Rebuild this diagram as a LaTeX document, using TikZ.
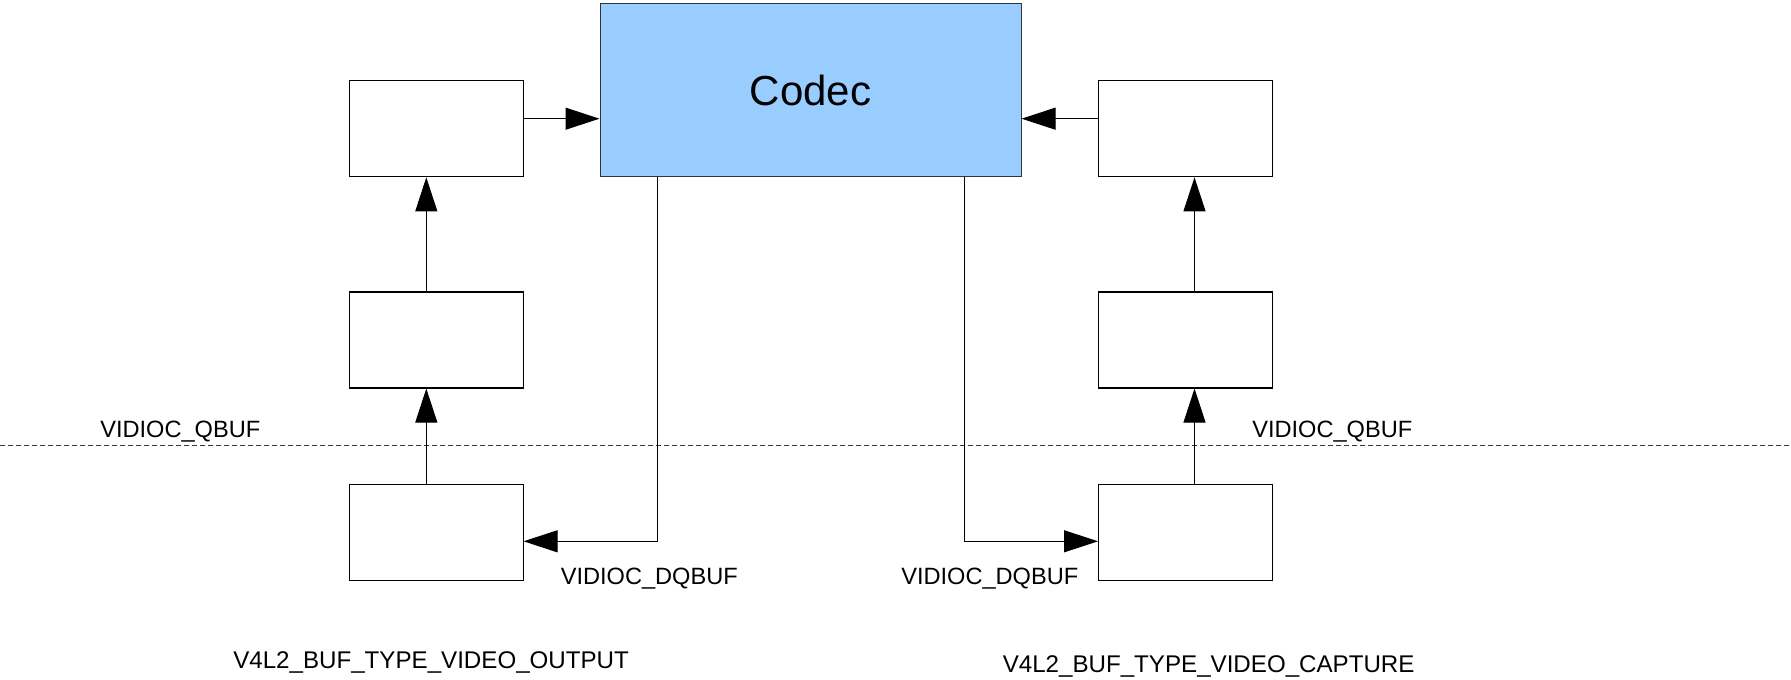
\documentclass[tikz,border=0pt]{standalone}
\usepackage{fontspec}
\setmainfont{Liberation Sans}
\usetikzlibrary{arrows.meta}
\definecolor{codecblue}{HTML}{99CCFF}
\begin{document}
\begin{tikzpicture}[x=0.75pt,y=-0.75pt,
  box/.style={draw=black,line width=0.8pt,fill=white,minimum width=174*0.75pt,minimum height=96*0.75pt,inner sep=0pt,anchor=north west},
  arr/.style={draw=black,line width=0.75pt,-{Triangle[length=25.5pt,width=16.5pt]}},
  lbl/.style={inner sep=0pt,anchor=base west,font=\fontsize{17.7pt}{20pt}\selectfont},
  biglbl/.style={inner sep=0pt,anchor=base west,font=\fontsize{18.1pt}{20pt}\selectfont}]
\useasboundingbox (0,0) rectangle (1791,680);
% codec
\node[draw=black!80,line width=0.8pt,fill=codecblue,minimum width=421*0.75pt,minimum height=172.6*0.75pt,inner sep=0pt,anchor=north west,font=\fontsize{31.5pt}{36pt}\selectfont] (codec) at (599.5,3.4) {Codec};
% boxes
\node[box] (lt) at (348.5,80.3) {};
\node[box] (lm) at (348.5,291.5) {};
\node[box] (lb) at (348.5,483.7) {};
\node[box] (rt) at (1098,80.3) {};
\node[box] (rm) at (1098,291.5) {};
\node[box] (rb) at (1098,483.7) {};
% helper coordinates
\coordinate (ya) at (0,118.7);
\coordinate (yd) at (0,541.3);
\coordinate (xl) at (426.3,0);
\coordinate (xr) at (1194.5,0);
\coordinate (xcl) at (657,0);
\coordinate (xcr) at (964,0);
\coordinate (dl) at (0,445.3);
\coordinate (dr) at (1791,445.3);
% dashed line
\draw[black!80,line width=0.6pt,dash pattern=on 3.5pt off 2.5pt] (dl) -- (dr);
% connectors
\draw[arr] (lt.east |- ya) -- (codec.west |- ya);
\draw[arr] (rt.west |- ya) -- (codec.east |- ya);
\draw[arr] (lm.north -| xl) -- (lt.south -| xl);
\draw[arr] (lb.north -| xl) -- (lm.south -| xl);
\draw[arr] (rm.north -| xr) -- (rt.south -| xr);
\draw[arr] (rb.north -| xr) -- (rm.south -| xr);
\draw[arr] (codec.south -| xcl) |- (lb.east |- yd);
\draw[arr] (codec.south -| xcr) |- (rb.west |- yd);
% labels
\node[lbl] (q1) at (100,438) {VIDIOC\_QBUF};
\node[lbl] (q2) at (1252,438) {VIDIOC\_QBUF};
\node[lbl] (d1) at (560.5,584.5) {VIDIOC\_DQBUF};
\node[lbl] (d2) at (901,584.5) {VIDIOC\_DQBUF};
\node[biglbl] (o1) at (233,668) {V4L2\_BUF\_TYPE\_VIDEO\_OUTPUT};
\node[biglbl] (o2) at (1002.5,672.7) {V4L2\_BUF\_TYPE\_VIDEO\_CAPTURE};
\end{tikzpicture}
\end{document}
